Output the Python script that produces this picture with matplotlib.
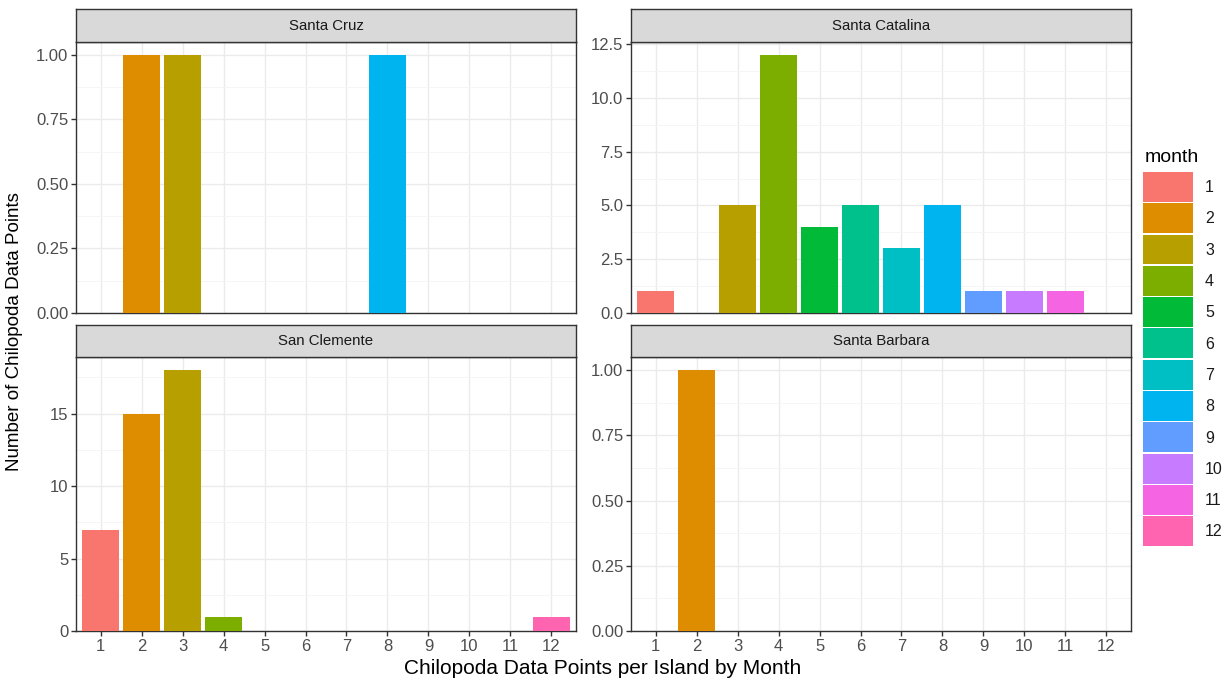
import numpy as np
import matplotlib
matplotlib.use("Agg")
import matplotlib.pyplot as plt
from matplotlib.patches import Rectangle

plt.rcParams['font.family'] = ['Liberation Sans', 'DejaVu Sans']

# --- datos: registros de Chilopoda por isla y mes ---
islas = ["Santa Cruz", "Santa Catalina", "San Clemente", "Santa Barbara"]
meses = list(range(1, 13))

santa_cruz_meses = [2, 3, 8]
santa_cruz_n = [1, 1, 1]

santa_catalina_meses = [1, 3, 4, 5, 6, 7, 8, 9, 10, 11]
santa_catalina_n = [1, 5, 12, 4, 5, 3, 5, 1, 1, 1]

san_clemente_meses = [1, 2, 3, 4, 12]
san_clemente_n = [7, 15, 18, 1, 1]

santa_barbara_meses = [2]
santa_barbara_n = [1]

# ticks del eje y por panel (escalas libres)
ticks_y = {
    "Santa Cruz": [0, 0.25, 0.5, 0.75, 1.0],
    "Santa Catalina": [0, 2.5, 5.0, 7.5, 10.0, 12.5],
    "San Clemente": [0, 5, 10, 15],
    "Santa Barbara": [0, 0.25, 0.5, 0.75, 1.0],
}
formato_y = {
    "Santa Cruz": "{:.2f}",
    "Santa Catalina": "{:.1f}",
    "San Clemente": "{:.0f}",
    "Santa Barbara": "{:.2f}",
}

# paleta hue por defecto de ggplot2 para 12 niveles
colores = ["#F8766D", "#DE8C00", "#B79F00", "#7CAE00", "#00BA38", "#00C08B",
           "#00BFC4", "#00B4F0", "#619CFF", "#C77CFF", "#F564E3", "#FF64B0"]

datos = {
    "Santa Cruz": (santa_cruz_meses, santa_cruz_n),
    "Santa Catalina": (santa_catalina_meses, santa_catalina_n),
    "San Clemente": (san_clemente_meses, san_clemente_n),
    "Santa Barbara": (santa_barbara_meses, santa_barbara_n),
}

W, H = 1229, 685
fig = plt.figure(figsize=(W / 100, H / 100), dpi=100)

def caja(x0, y0, x1, y1):
    # coordenadas en pixeles (origen arriba-izquierda) -> fraccion de figura
    return [x0 / W, 1 - y1 / H, (x1 - x0) / W, (y1 - y0) / H]

paneles = {
    "Santa Cruz": (76, 42, 576, 313),
    "Santa Catalina": (631, 42, 1131, 313),
    "San Clemente": (76, 357, 576, 631),
    "Santa Barbara": (631, 357, 1131, 631),
}
tiras = {
    "Santa Cruz": (76, 9, 576, 42),
    "Santa Catalina": (631, 9, 1131, 42),
    "San Clemente": (76, 325, 576, 357),
    "Santa Barbara": (631, 325, 1131, 357),
}

BORDE = "#333333"
TEXTO_EJE = "#4D4D4D"

for isla in islas:
    ax = fig.add_axes(caja(*paneles[isla]))
    m, n = datos[isla]
    ax.bar(m, n, width=0.9, color=[colores[i - 1] for i in m], zorder=3)
    ymax = max(n) * 1.05
    ax.set_xlim(0.4, 12.6)
    ax.set_ylim(0, ymax)

    ty = ticks_y[isla]
    ax.set_yticks(ty)
    ax.set_yticklabels([formato_y[isla].format(v) for v in ty])
    menores = [(a + b) / 2 for a, b in zip(ty[:-1], ty[1:])]
    if ty[-1] + (ty[1] - ty[0]) / 2 < ymax:
        menores.append(ty[-1] + (ty[1] - ty[0]) / 2)
    ax.set_yticks(menores, minor=True)
    ax.set_xticks(meses)

    ax.grid(which="major", color="#EBEBEB", lw=1.0, zorder=0)
    ax.grid(which="minor", axis="y", color="#F4F4F4", lw=0.6, zorder=0)
    ax.set_axisbelow(True)
    for s in ax.spines.values():
        s.set_color(BORDE)
        s.set_linewidth(1.0)
    ax.tick_params(axis="y", which="major", length=3.5, width=1.0, color=BORDE,
                   labelcolor=TEXTO_EJE, labelsize=12, pad=2)
    ax.tick_params(axis="y", which="minor", length=0)
    abajo = isla in ("San Clemente", "Santa Barbara")
    if abajo:
        ax.set_xticklabels([str(v) for v in meses])
        ax.tick_params(axis="x", length=3.5, width=1.0, color=BORDE,
                       labelcolor=TEXTO_EJE, labelsize=12, pad=2)
    else:
        ax.tick_params(axis="x", length=0, labelbottom=False)

    # tira del facet
    st = fig.add_axes(caja(*tiras[isla]))
    st.set_xticks([])
    st.set_yticks([])
    st.set_facecolor("#D9D9D9")
    for s in st.spines.values():
        s.set_color(BORDE)
        s.set_linewidth(1.0)
    st.text(0.5, 0.5, isla, ha="center", va="center", fontsize=10.8,
            color="#1A1A1A", transform=st.transAxes)

# titulos de ejes
fig.text(603 / W, 1 - 668 / H, "Chilopoda Data Points per Island by Month",
         ha="center", va="center", fontsize=15, color="black")
fig.text(15 / W, 1 - 332 / H, "Number of Chilopoda Data Points", rotation=90,
         ha="center", va="center", fontsize=13.5, color="black")

# leyenda
fig.text(1145 / W, 1 - 157 / H, "month", ha="left", va="center", fontsize=14,
         color="black")
alto = 31.3
y0 = 172
for i, c in enumerate(colores):
    yy = y0 + i * alto
    fig.patches.append(Rectangle((1143 / W, 1 - (yy + alto - 1.5) / H),
                                 (1193 - 1143) / W, (alto - 1.5) / H,
                                 transform=fig.transFigure, facecolor=c,
                                 edgecolor="none"))
    fig.text(1205 / W, 1 - (yy + alto / 2) / H, str(meses[i]), ha="left",
             va="center", fontsize=11.5, color="#1A1A1A")

fig.savefig("out.png", dpi=100)
